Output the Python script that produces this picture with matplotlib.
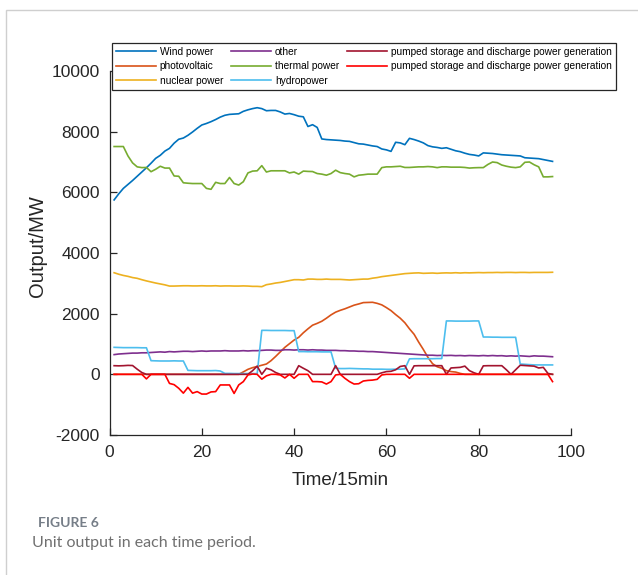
import matplotlib
matplotlib.use("Agg")
import matplotlib.pyplot as plt
from matplotlib.patches import Rectangle
import numpy as np

plt.rcParams['font.family'] = ['Liberation Sans', 'DejaVu Sans']
plt.rcParams['axes.unicode_minus'] = False

time = list(range(1, 97))

wind = [5750, 5950, 6130, 6260, 6390, 6530, 6670, 6810, 6960, 7120,
        7220, 7360, 7450, 7620, 7750, 7790, 7880, 7990, 8110, 8220,
        8270, 8330, 8400, 8480, 8540, 8570, 8580, 8590, 8670, 8720,
        8760, 8790, 8760, 8690, 8700, 8700, 8650, 8580, 8600, 8560,
        8510, 8490, 8170, 8230, 8140, 7760, 7740, 7730, 7720, 7710,
        7690, 7680, 7640, 7600, 7590, 7560, 7530, 7510, 7430, 7400,
        7350, 7650, 7630, 7570, 7780, 7740, 7690, 7630, 7540, 7500,
        7480, 7450, 7470, 7420, 7370, 7340, 7290, 7250, 7230, 7200,
        7300, 7290, 7280, 7260, 7240, 7230, 7220, 7210, 7200, 7140,
        7130, 7120, 7110, 7080, 7050, 7020]

photovoltaic = [0] * 28 + [80, 165, 220, 260, 300, 340, 450, 590, 740, 890,
        1010, 1130, 1220, 1370, 1500, 1620, 1680, 1750, 1850, 1960,
        2050, 2110, 2160, 2220, 2280, 2320, 2365, 2370, 2375, 2340,
        2290, 2200, 2100, 1970, 1850, 1700, 1500, 1320, 1060, 820,
        560, 350, 250, 200, 120, 90, 75, 30] + [0] * 20

nuclear = [3350, 3300, 3260, 3230, 3190, 3165, 3120, 3080, 3045, 3010,
           2980, 2950, 2910, 2910, 2915, 2920, 2920, 2915, 2915, 2920,
           2915, 2915, 2920, 2910, 2915, 2915, 2910, 2910, 2915, 2910,
           2900, 2900, 2890, 2955, 2980, 3010, 3030, 3060, 3090, 3120,
           3120, 3110, 3140, 3140, 3130, 3130, 3140, 3130, 3130, 3130,
           3120, 3110, 3120, 3130, 3140, 3140, 3170, 3190, 3220, 3240,
           3260, 3280, 3300, 3320, 3330, 3340, 3345, 3330, 3335, 3340,
           3330, 3340, 3345, 3340, 3350, 3340, 3350, 3345, 3350, 3355,
           3350, 3355, 3355, 3360, 3355, 3360, 3360, 3355, 3360, 3360,
           3355, 3360, 3360, 3360, 3360, 3365]

other = [650, 670, 680, 690, 700, 700, 710, 710, 720, 730,
         740, 730, 750, 740, 750, 760, 760, 750, 760, 770,
         760, 770, 770, 770, 780, 770, 770, 770, 780, 770,
         780, 780, 790, 800, 800, 790, 790, 810, 810, 800,
         810, 810, 800, 810, 800, 800, 790, 790, 790, 780,
         780, 770, 770, 760, 760, 750, 750, 740, 730, 720,
         710, 700, 690, 680, 670, 660, 650, 640, 630, 630,
         620, 625, 620, 625, 615, 620, 610, 620, 615, 610,
         620, 610, 620, 610, 615, 600, 610, 600, 610, 600,
         590, 610, 600, 600, 590, 580]

thermal = [7510, 7510, 7510, 7200, 6970, 6840, 6815, 6820, 6680, 6760,
           6860, 6800, 6800, 6540, 6530, 6315, 6300, 6290, 6290, 6290,
           6130, 6100, 6330, 6290, 6290, 6490, 6290, 6240, 6350, 6640,
           6700, 6710, 6880, 6670, 6710, 6710, 6710, 6710, 6640, 6670,
           6600, 6700, 6690, 6685, 6620, 6600, 6565, 6620, 6730, 6650,
           6620, 6600, 6510, 6565, 6580, 6600, 6600, 6600, 6815, 6840,
           6840, 6850, 6860, 6820, 6820, 6830, 6840, 6840, 6850, 6840,
           6815, 6840, 6840, 6830, 6830, 6830, 6820, 6800, 6810, 6815,
           6815, 6920, 7000, 6980, 6900, 6860, 6830, 6815, 6840, 6990,
           7000, 6910, 6840, 6510, 6510, 6520]

hydropower = [890, 885, 880, 880, 880, 880, 875, 875,
              450, 445, 440, 440, 440, 445, 440, 440,
              130, 125, 120, 120, 120, 120, 125, 110,
              30, 30, 25, 25, 25, 25, 25, 25,
              1450, 1450, 1445, 1445, 1445, 1445, 1440, 1440,
              750, 750, 745, 745, 745, 740, 740, 740,
              200, 190, 190, 195, 190, 185, 180, 180,
              170, 170, 170, 165, 165, 170, 170, 180,
              510, 515, 515, 515, 515, 515, 520, 520,
              1760, 1760, 1755, 1755, 1755, 1755, 1760, 1760,
              1230, 1230, 1225, 1225, 1220, 1220, 1220, 1220,
              340, 330, 320, 310, 310, 310, 310, 310]

pumped_gen = [285, 280, 285, 295, 290, 170, 60, 0, 0, 0,
              0, 0, 0, 0, 0, 0, 0, 0, 0, 0,
              0, 0, 0, 0, 0, 0, 0, 0, 0, 0,
              120, 270, 0, 200, 150, 60, 0, 0, 0, 0,
              285, 200, 120, 0, 0, 0, 0, 0, 285, 0,
              0, 0, 0, 0, 0, 0, 0, 0, 50, 90,
              100, 150, 260, 285, 0, 280, 285, 285, 285, 285,
              285, 285, 0, 210, 220, 230, 270, 120, 50, 0,
              280, 285, 285, 285, 285, 150, 0, 150, 300, 290,
              280, 270, 210, 230, 30, 0]

pumped_pump = [0, 0, 0, 0, 0, 0, 0, -150, 0, 0,
               0, 0, -300, -340, -460, -620, -430, -620, -570, -650,
               -650, -580, -570, -350, -350, -350, -630, -350, -240, -20,
               10, 0, -160, -50, 0, 0, -20, -120, 0, -130,
               0, 0, 0, -240, -240, -250, -320, -240, -20, 0,
               -130, -240, -320, -310, -220, -200, -190, -165, -20, 0,
               0, 0, 0, 0, -130, 0, 0, 0, 0, 0,
               0, 0, 0, 0, 0, 0, 0, 0, 0, 0,
               0, 0, 0, 0, 0, 0, 0, 0, 0, 0,
               0, 0, 0, 0, 0, -240]

labels = ["Wind power", "photovoltaic", "nuclear power", "other",
          "thermal power", "hydropower",
          "pumped storage and discharge power generation",
          "pumped storage and discharge power generation"]
colors = ["#0072BD", "#D95319", "#EDB120", "#7E2F8E", "#77AC30", "#4DBEEE",
          "#A2142F", "#FF0000"]
series = [wind, photovoltaic, nuclear, other, thermal, hydropower,
          pumped_gen, pumped_pump]

W, H = 638, 575
fig = plt.figure(figsize=(W / 100, H / 100), dpi=100)
fig.patch.set_facecolor("white")

# outer frame
fig.add_artist(Rectangle((6 / W, -0.1), 1.2, 1 - 9.5 / H + 0.1,
                         transform=fig.transFigure, fill=False,
                         edgecolor="#cfcfcf", linewidth=1.0))

ax = fig.add_axes([109.5 / W, 1 - 435 / H, (571 - 109.5) / W, (435 - 71) / H])
handles = []
for s, c, lab in zip(series, colors, labels):
    h, = ax.plot(time, s, color=c, lw=1.2, label=lab)
    handles.append(h)

ax.set_xlim(0, 100)
ax.set_ylim(-2000, 10000)
ax.set_xticks([0, 20, 40, 60, 80, 100])
ax.set_yticks([-2000, 0, 2000, 4000, 6000, 8000, 10000])
for sp in ["top", "right"]:
    ax.spines[sp].set_visible(False)
for sp in ["left", "bottom"]:
    ax.spines[sp].set_color("#262626")
    ax.spines[sp].set_linewidth(0.9)
ax.tick_params(direction="in", length=5, width=0.9, colors="#262626",
               labelsize=12.5, pad=7)
ax.set_xlabel("Time/15min", fontsize=13.5, color="#262626", labelpad=9)
ax.set_ylabel("Output/MW", fontsize=14.5, color="#262626")
ax.yaxis.set_label_coords(-0.135, 0.52)

leg = fig.legend(handles=handles, loc="upper left",
                 bbox_to_anchor=(111.5 / W, 1 - 42.5 / H), ncol=3,
                 fontsize=7.3, frameon=True, fancybox=False,
                 edgecolor="#262626", framealpha=1, handlelength=4.0,
                 handletextpad=0.35, columnspacing=0.75, labelspacing=0.45,
                 borderpad=0.4, borderaxespad=0)
leg.get_frame().set_linewidth(0.9)

fig.text(38 / W, 1 - 523 / H, "FIGURE 6", fontsize=10, fontweight="bold",
         color="#767e88", va="center", ha="left", family=["Lato", "DejaVu Sans"])
fig.text(32 / W, 1 - 543 / H, "Unit output in each time period.",
         fontsize=11.5, color="#707070", va="center", ha="left",
         family=["Lato", "DejaVu Sans"])

fig.savefig("out.png", dpi=100, facecolor="white")
